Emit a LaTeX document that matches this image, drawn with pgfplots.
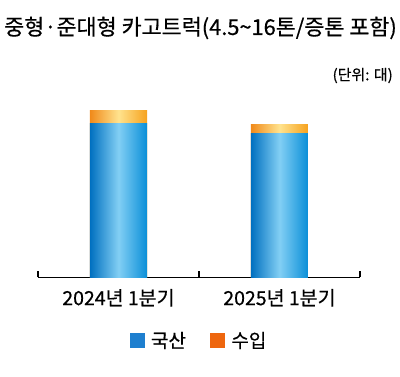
\documentclass[border=0pt]{standalone}
\usepackage{pgfplots}
\pgfplotsset{compat=1.18}
\usepackage{fontspec}
\setmainfont[FakeBold=0.5]{Noto Sans CJK KR}
\definecolor{bL}{HTML}{0070C0}
\definecolor{bM}{HTML}{82CFF4}
\definecolor{bR}{HTML}{0A8FD8}
\definecolor{oL}{HTML}{F08A1A}
\definecolor{oM}{HTML}{FFE38E}
\definecolor{oR}{HTML}{F6A21E}
\definecolor{legblue}{HTML}{1E7FCF}
\definecolor{legorange}{HTML}{EE660E}
\begin{document}
\begin{tikzpicture}[x=1pt,y=1pt]
\path[use as bounding box] (0,0) rectangle (400,377);
\node[anchor=west, inner sep=0pt, font=\fontsize{21.8}{22}\selectfont] at (4,349) {중형·준대형 카고트럭(4.5\textasciitilde16톤/증톤 포함)};
\node[anchor=east, inner sep=0pt, font=\fontsize{15}{16}\selectfont] at (393,301.5) {(단위: 대)};
\begin{axis}[
  at={(38pt,99.5pt)}, anchor=south west,
  scale only axis, width=322pt, height=217pt,
  xmin=-0.5, xmax=1.5, ymin=0, ymax=2170,
  axis y line=none, axis x line*=bottom,
  x axis line style={black, line width=1.8pt},
  ybar, bar width=57pt, bar shift=0pt,
  xtick={-0.5,0.5,1.5}, xticklabels={,,},
  tick align=inside, major tick length=6pt,
  xtick style={black, line width=1.3pt},
  extra x ticks={0,1},
  extra x tick labels={2024년 1분기,2025년 1분기},
  extra x tick style={major tick length=0pt, tick style={draw=none}},
  xticklabel style={font=\fontsize{19.5}{20}\selectfont, yshift=-8pt},
  legend columns=2,
  legend style={at={(0.5,0)}, anchor=center, yshift=-63pt, draw=none,
    font=\fontsize{19}{20}\selectfont,
    /tikz/every odd column/.append style={column sep=5pt},
    /tikz/every even column/.append style={column sep=22pt}},
]
\addlegendimage{legend image code/.code={\fill[legblue] (0pt,-7pt) rectangle (14pt,7pt);}}
\addlegendentry{국산}
\addlegendimage{legend image code/.code={\fill[legorange] (0pt,-7pt) rectangle (14pt,7pt);}}
\addlegendentry{수입}
% 수입 (stacked on top of 국산): bar drawn to the total, 국산 drawn over it
\addplot[forget plot, draw=none, left color=oL, right color=oR, middle color=oM]
  coordinates {(0,1670)}; % 1540 + 130
\addplot[forget plot, draw=none, left color=oL, right color=oR, middle color=oM]
  coordinates {(1,1530)}; % 1440 + 90
% 국산
\addplot[forget plot, draw=none, left color=bL, right color=bR, middle color=bM]
  coordinates {(0,1540)};
\addplot[forget plot, draw=none, left color=bL, right color=bR, middle color=bM]
  coordinates {(1,1440)};
\end{axis}
\end{tikzpicture}
\end{document}
